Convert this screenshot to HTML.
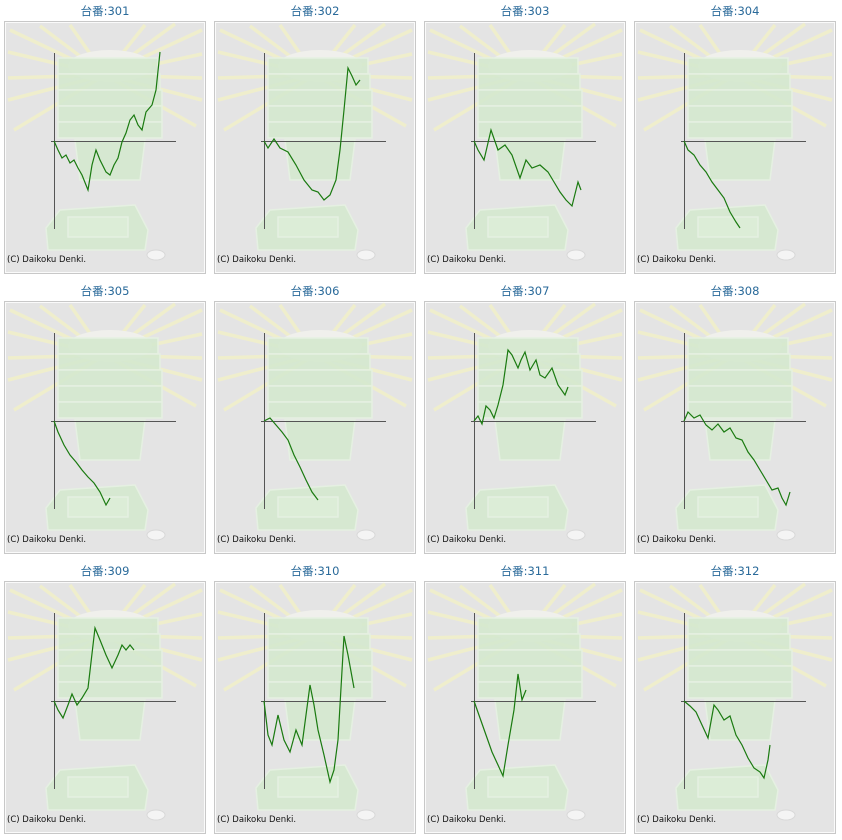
<!DOCTYPE html>
<html><head><meta charset="utf-8"><style>
html,body{margin:0;padding:0;background:#fff;}
svg{display:block}
</style></head><body>
<svg width="842" height="840" xmlns="http://www.w3.org/2000/svg">
<defs>
<g id="bg">
<rect x="4.5" y="21.5" width="201" height="252" fill="#e4e4e4" stroke="#c8c8c8"/>
<rect x="5.5" y="22.5" width="199" height="250" fill="none" stroke="#fafafa"/>
<g stroke="#f2f0c8" stroke-width="3.5" opacity="0.85">
<line x1="105" y1="75" x2="10" y2="30"/><line x1="105" y1="75" x2="8" y2="52"/>
<line x1="105" y1="75" x2="8" y2="78"/><line x1="105" y1="75" x2="8" y2="100"/>
<line x1="105" y1="75" x2="14" y2="130"/><line x1="105" y1="75" x2="40" y2="26"/>
<line x1="105" y1="75" x2="70" y2="25"/><line x1="105" y1="75" x2="145" y2="25"/>
<line x1="105" y1="75" x2="175" y2="24"/><line x1="105" y1="75" x2="202" y2="30"/>
<line x1="105" y1="75" x2="202" y2="54"/><line x1="105" y1="75" x2="202" y2="78"/>
<line x1="105" y1="75" x2="202" y2="100"/><line x1="105" y1="75" x2="196" y2="126"/>
</g>
<ellipse cx="110" cy="66" rx="42" ry="16" fill="#f0f0ec"/>
<g fill="#d5e9cf" stroke="#e6f2e2" stroke-width="1.5" opacity="0.9">
<path d="M75 140 L145 140 L140 180 L80 180 Z"/>
<rect x="58" y="58" width="100" height="16"/>
<rect x="58" y="74" width="102" height="16"/>
<rect x="58" y="90" width="104" height="16"/>
<rect x="58" y="106" width="104" height="16"/>
<rect x="58" y="122" width="104" height="16"/>
<path d="M48 250 L145 250 L148 230 L135 205 L60 210 L46 228 Z"/>
<rect x="68" y="217" width="60" height="20" fill="#dcefd6"/>
</g>
<ellipse cx="156" cy="255" rx="9" ry="5" fill="#f4f4f4" stroke="#d8d8d8"/>
<line x1="54.5" y1="53" x2="54.5" y2="229" stroke="#555"/>
<line x1="51" y1="141.5" x2="176" y2="141.5" stroke="#555"/>
<text x="7" y="262" font-family="DejaVu Sans, sans-serif" font-size="8.5" fill="#111">(C) Daikoku Denki.</text>
</g>
</defs>
<g font-family="DejaVu Sans, 'Noto Sans CJK JP', sans-serif" font-size="11.5" fill="#2a6a9a" text-anchor="middle">
<text x="105" y="15">台番:301</text><text x="315" y="15">台番:302</text><text x="525" y="15">台番:303</text><text x="735" y="15">台番:304</text>
<text x="105" y="295">台番:305</text><text x="315" y="295">台番:306</text><text x="525" y="295">台番:307</text><text x="735" y="295">台番:308</text>
<text x="105" y="575">台番:309</text><text x="315" y="575">台番:310</text><text x="525" y="575">台番:311</text><text x="735" y="575">台番:312</text>
</g>
<use href="#bg"/><use href="#bg" x="210"/><use href="#bg" x="420"/><use href="#bg" x="630"/>
<use href="#bg" y="280"/><use href="#bg" x="210" y="280"/><use href="#bg" x="420" y="280"/><use href="#bg" x="630" y="280"/>
<use href="#bg" y="560"/><use href="#bg" x="210" y="560"/><use href="#bg" x="420" y="560"/><use href="#bg" x="630" y="560"/>
<g fill="none" stroke="#1a7a10" stroke-width="1.2">
<polyline points="54,141 58,150 62,158 66,155 70,163 74,160 78,168 82,175 88,190 92,165 96,150 100,160 106,172 110,175 114,165 118,158 122,142 126,133 130,120 134,115 138,125 142,130 146,112 152,105 156,90 160,52"/>
<polyline points="264,141 268,148 274,139 280,148 288,152 296,165 304,180 312,190 318,192 324,200 330,195 336,180 340,150 344,110 348,68 352,76 356,85 360,80"/>
<polyline points="474,141 478,150 484,160 491,130 498,150 505,145 512,155 520,178 526,160 532,168 540,165 548,172 554,182 560,192 566,200 572,206 578,182 581,190"/>
<polyline points="684,141 688,150 694,155 700,165 706,172 712,182 718,190 724,198 730,212 736,222 740,228"/>
<polyline points="54,421 58,432 64,445 70,455 76,462 82,470 88,477 94,483 100,492 106,505 110,498"/>
<polyline points="264,421 270,418 276,425 282,432 288,440 294,455 300,467 306,480 312,492 318,500"/>
<polyline points="474,421 478,416 482,424 486,406 490,410 494,418 498,405 503,385 508,350 512,355 518,368 521,360 525,352 530,370 536,360 540,375 545,378 552,368 558,385 565,395 568,387"/>
<polyline points="684,421 688,412 694,418 700,415 706,425 712,430 718,424 724,432 730,428 736,438 742,440 748,452 754,460 760,470 766,480 772,490 778,488 782,498 786,505 790,492"/>
<polyline points="54,701 58,710 63,718 68,705 72,694 77,705 82,698 88,688 95,628 100,640 106,655 112,668 118,655 122,645 126,650 130,645 134,650"/>
<polyline points="264,701 268,735 272,745 278,715 284,740 290,752 296,730 302,745 310,685 314,705 318,730 324,755 330,782 334,770 338,740 344,636 348,655 354,688"/>
<polyline points="474,701 480,718 486,735 492,752 498,765 503,776 508,745 514,710 518,674 522,700 526,690"/>
<polyline points="684,701 690,706 696,712 702,725 708,738 714,705 718,710 724,720 730,716 736,735 742,745 748,758 754,768 760,772 764,778 768,760 770,745"/>
</g>
</svg>
</body></html>
